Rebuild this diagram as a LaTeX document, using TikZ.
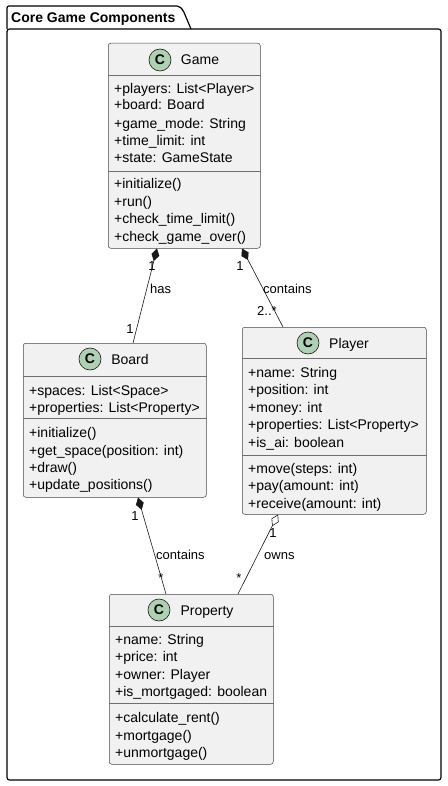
\documentclass[tikz,border=0pt]{standalone}
\usepackage{fontspec}
\setmainfont{Liberation Sans}
\usetikzlibrary{arrows.meta}
\definecolor{boxfill}{HTML}{F1F1F1}
\definecolor{boxline}{HTML}{181818}
\definecolor{sepcol}{HTML}{6E6E6E}
\definecolor{spotfill}{HTML}{ADD1B2}
\tikzset{
  classbox/.style={draw=boxline!80, fill=boxfill, rounded corners=2.5pt, line width=0.5pt, anchor=north west, inner sep=0pt},
  txt/.style={anchor=base west, inner sep=0pt, font=\fontsize{14}{16}\selectfont},
  cname/.style={anchor=base, inner sep=0pt, font=\fontsize{14}{16}\selectfont},
  lbl/.style={anchor=base, inner sep=0pt, font=\fontsize{13}{15}\selectfont},
  lblw/.style={anchor=base west, inner sep=0pt, font=\fontsize{13}{15}\selectfont},
  spotc/.style={circle, draw=boxline, fill=spotfill, minimum size=22pt, inner sep=0pt, line width=0.6pt, font=\bfseries\fontsize{14}{16}\selectfont},
  sepline/.style={draw=sepcol, line width=0.5pt},
  comp/.style={draw=boxline, line width=0.6pt, {Diamond[length=13pt,width=8pt]}-},
  aggr/.style={draw=boxline, line width=0.6pt, {Diamond[open,length=13pt,width=8pt]}-},
  pkg/.style={draw=black, line width=1.2pt, line join=round}
}
\begin{document}
\begin{tikzpicture}[x=1pt,y=-1pt]
\useasboundingbox[fill=white] (0,0) rectangle (447,786);
% package
\draw[pkg, rounded corners=2pt] (7,29) -- (7,6) -- (179,6) -- (183,10) -- (191,29);
\draw[pkg, rounded corners=2.5pt] (7,29) rectangle (441,780);
\node[anchor=base west, inner sep=0pt, font=\bfseries\fontsize{14}{16}\selectfont] (pkgtitle) at (11,23) {Core Game Components};

% Game
\node[classbox, minimum width=152pt, minimum height=205pt] (game) at (108,43) {};
\draw[sepline] (game.west |- 0,75) -- (game.east |- 0,75);
\draw[sepline] (game.west |- 0,171) -- (game.east |- 0,171);
\node[spotc] (gamespot) at (160,60) {C};
\node[cname] (gamename) at (200,65) {Game};
\node[txt] (g1) at (114,94) {+players: List<Player>};
\node[txt] (g2) at (114,110) {+board: Board};
\node[txt] (g3) at (114,128.5) {+game\_mode: String};
\node[txt] (g4) at (114,145.5) {+time\_limit: int};
\node[txt] (g5) at (114,163) {+state: GameState};
\node[txt] (g6) at (114,189) {+initialize()};
\node[txt] (g7) at (114,206.5) {+run()};
\node[txt] (g8) at (114,224) {+check\_time\_limit()};
\node[txt] (g9) at (114,241.5) {+check\_game\_over()};

% Board
\node[classbox, minimum width=183pt, minimum height=154pt] (board) at (23,343) {};
\draw[sepline] (board.west |- 0,376) -- (board.east |- 0,376);
\draw[sepline] (board.west |- 0,418) -- (board.east |- 0,418);
\node[spotc] (boardspot) at (90,359) {C};
\node[cname] (boardname) at (130,364) {Board};
\node[txt] (b1) at (29,395) {+spaces: List<Space>};
\node[txt] (b2) at (29,412.5) {+properties: List<Property>};
\node[txt] (b3) at (29,437.5) {+initialize()};
\node[txt] (b4) at (29,455) {+get\_space(position: int)};
\node[txt] (b5) at (29,472) {+draw()};
\node[txt] (b6) at (29,489.5) {+update\_positions()};

% Player
\node[classbox, minimum width=184pt, minimum height=187pt] (player) at (242,327) {};
\draw[sepline] (player.west |- 0,358) -- (player.east |- 0,358);
\draw[sepline] (player.west |- 0,455) -- (player.east |- 0,455);
\node[spotc] (playerspot) at (308,343) {C};
\node[cname] (playername) at (349,348) {Player};
\node[txt] (p1) at (248,377) {+name: String};
\node[txt] (p2) at (248,394.5) {+position: int};
\node[txt] (p3) at (248,412) {+money: int};
\node[txt] (p4) at (248,429.5) {+properties: List<Property>};
\node[txt] (p5) at (248,447) {+is\_ai: boolean};
\node[txt] (p6) at (248,473) {+move(steps: int)};
\node[txt] (p7) at (248,490.5) {+pay(amount: int)};
\node[txt] (p8) at (248,508) {+receive(amount: int)};

% Property
\node[classbox, minimum width=164pt, minimum height=170pt] (property) at (109,594) {};
\draw[sepline] (property.west |- 0,626) -- (property.east |- 0,626);
\draw[sepline] (property.west |- 0,703) -- (property.east |- 0,703);
\node[spotc] (propspot) at (159,610) {C};
\node[cname] (propname) at (207,615) {Property};
\node[txt] (r1) at (115,644) {+name: String};
\node[txt] (r2) at (115,661.5) {+price: int};
\node[txt] (r3) at (115,679) {+owner: Player};
\node[txt] (r4) at (115,696.5) {+is\_mortgaged: boolean};
\node[txt] (r5) at (115,722) {+calculate\_rent()};
\node[txt] (r6) at (115,740) {+mortgage()};
\node[txt] (r7) at (115,757) {+unmortgage()};

% connector end points
\coordinate (gb) at ([xshift=49pt]game.south west);
\coordinate (bt) at ([xshift=110pt]board.north west);
\coordinate (gp) at ([xshift=134pt]game.south west);
\coordinate (pt) at ([xshift=41pt]player.north west);
\coordinate (bb) at ([xshift=115pt]board.south west);
\coordinate (rt1) at ([xshift=57pt]property.north west);
\coordinate (pb) at ([xshift=36pt]player.south west);
\coordinate (rt2) at ([xshift=129pt]property.north west);

\draw[comp] (gb) -- (bt);
\draw[comp] (gp) -- (pt);
\draw[comp] (bb) -- (rt1);
\draw[aggr] (pb) -- (rt2);

% labels
\node[lbl] (l1) at (152,270) {1};
\node[lblw] (l2) at (150,293) {has};
\node[lbl] (l3) at (130,333) {1};
\node[lbl] (l4) at (240,270) {1};
\node[lblw] (l5) at (263,293) {contains};
\node[lbl] (l6) at (267,315) {2..*};
\node[lbl] (l7) at (135,520) {1};
\node[lblw] (l8) at (156,559) {contains};
\node[lbl] (l9) at (161,582) {*};
\node[lbl] (l10) at (273,537) {1};
\node[lblw] (l11) at (264,559) {owns};
\node[lbl] (l12) at (239,582) {*};
\end{tikzpicture}
\end{document}
